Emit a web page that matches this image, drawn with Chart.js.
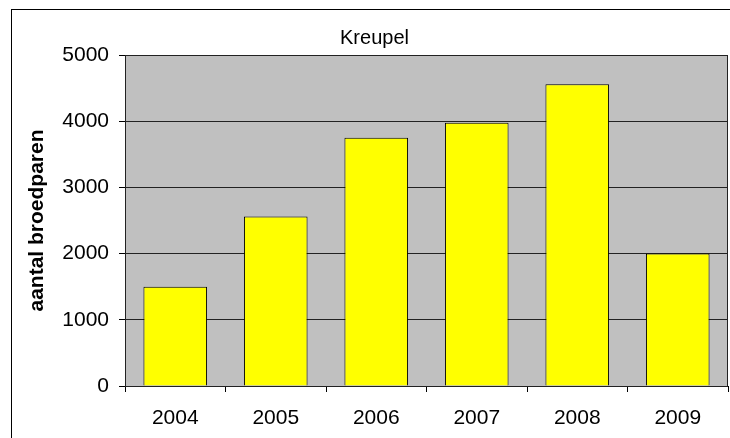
<!DOCTYPE html>
<html>
<head>
<meta charset="utf-8">
<script src="https://cdn.jsdelivr.net/npm/chart.js@4/dist/chart.umd.min.js"></script>
<style>
  html, body { margin: 0; padding: 0; background: #fff; }
  #wrap { width: 730px; height: 438px; }
</style>
</head>
<body>
<div id="wrap"><canvas id="chart" width="730" height="438"></canvas></div>
<script>
const years = ['2004', '2005', '2006', '2007', '2008', '2009'];
const pairs = [1500, 2560, 3750, 3975, 4560, 2000];
const yTicks = [0, 1000, 2000, 3000, 4000, 5000];

const FONT = 'Liberation Sans, Arial, sans-serif';

// grey plot area + frame around the whole chart
const frame = {
  id: 'frame',
  beforeDraw(chart) {
    const { ctx, chartArea: a } = chart;
    ctx.save();
    ctx.fillStyle = '#c0c0c0';
    ctx.fillRect(a.left, a.top, a.right - a.left, a.bottom - a.top);
    ctx.strokeStyle = '#000';
    ctx.lineWidth = 1;
    ctx.strokeRect(11.5, 9.5, 900, 900);
    ctx.restore();
  },
  afterDraw(chart) {
    const { ctx, chartArea: a } = chart;
    ctx.save();
    ctx.strokeStyle = '#222';
    ctx.lineWidth = 1;
    ctx.strokeRect(Math.round(a.left) + 0.5, Math.round(a.top) + 0.5,
      Math.round(a.right - a.left) - 1, Math.round(a.bottom - a.top));
    ctx.restore();
  }
};

new Chart(document.getElementById('chart'), {
  type: 'bar',
  data: {
    labels: years,
    datasets: [{
      data: pairs,
      backgroundColor: '#ffff00',
      borderColor: '#000',
      borderWidth: 1,
      barPercentage: 0.633,
      categoryPercentage: 1
    }]
  },
  options: {
    responsive: false,
    animation: false,
    layout: { padding: { left: 21, right: 2, top: 0, bottom: 0 } },
    plugins: {
      legend: { display: false },
      tooltip: { enabled: false },
      title: {
        display: true,
        text: 'Kreupel',
        color: '#000',
        font: { family: FONT, size: 20, weight: 'normal' },
        padding: { top: 26, bottom: 5 }
      }
    },
    scales: {
      x: {
        grid: { drawOnChartArea: false, drawTicks: true, tickLength: 6, color: '#000' },
        border: { color: '#000' },
        ticks: { color: '#000', padding: 14, font: { family: FONT, size: 21 } },
        afterFit(scale) { scale.height = 52; }
      },
      y: {
        min: 0,
        max: 5000,
        afterBuildTicks(scale) { scale.ticks = yTicks.map(v => ({ value: v })); },
        grid: { color: '#222', tickLength: 6, tickColor: '#000' },
        border: { color: '#000' },
        ticks: {
          color: '#000', padding: 10, font: { family: FONT, size: 21 },
          callback: v => String(v)
        },
        title: {
          display: true,
          text: 'aantal broedparen',
          color: '#000',
          font: { family: FONT, size: 21, weight: 'bold' },
          padding: { top: 4, bottom: 4 }
        },
        afterFit(scale) { scale.width = 104; }
      }
    }
  },
  plugins: [frame]
});
</script>
</body>
</html>
